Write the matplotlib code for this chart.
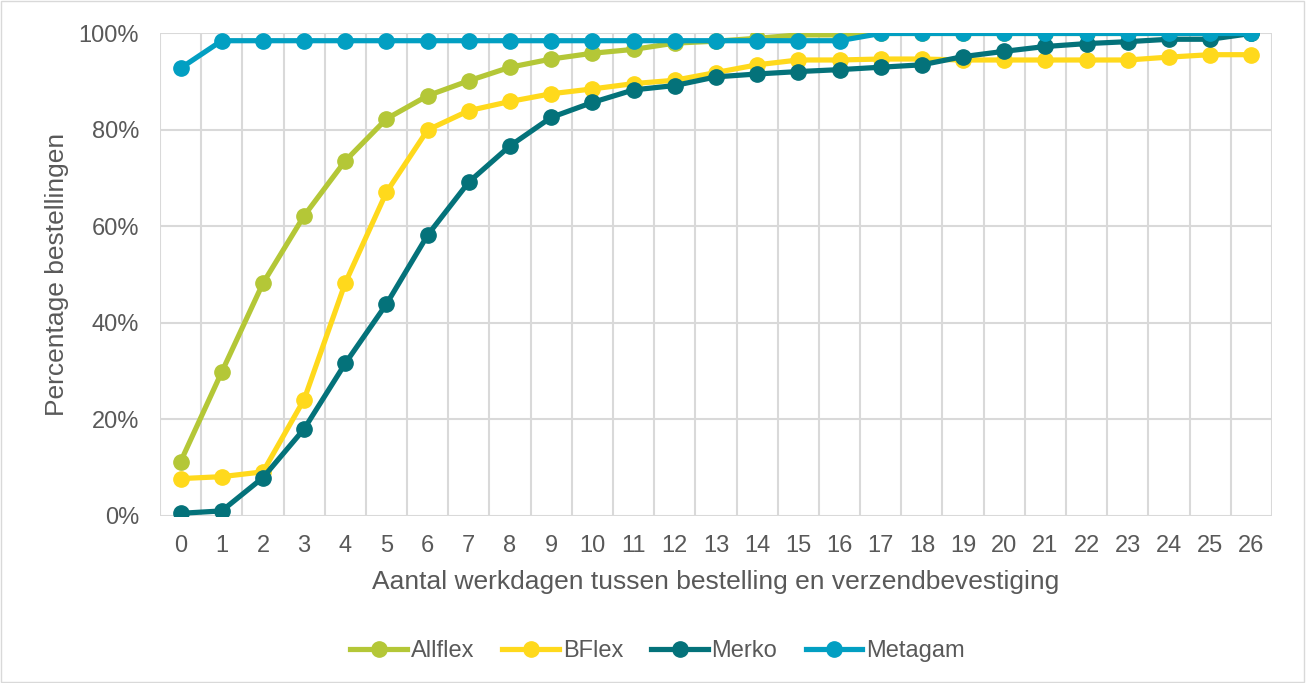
import matplotlib.pyplot as plt
from matplotlib.ticker import PercentFormatter, FixedLocator
from matplotlib.patches import Rectangle

plt.rcParams['font.family'] = ['Liberation Sans', 'DejaVu Sans']

days = list(range(27))
allflex = [11.2, 29.8, 48.2, 62.2, 73.6, 82.3, 87.1, 90.2, 93.0, 94.7, 95.9, 96.7, 98.0,
           98.4, 99.0, 99.7, 99.7, 100, 100, 100, 100, 100, 100, 100, 100, 100, 100]
bflex = [7.7, 8.1, 9.1, 24.1, 48.3, 67.1, 80.0, 84.0, 85.9, 87.5, 88.5, 89.6, 90.3,
         91.9, 93.5, 94.5, 94.5, 94.7, 94.7, 94.5, 94.5, 94.5, 94.5, 94.5, 95.1, 95.6, 95.6]
merko = [0.5, 1.0, 7.9, 18.0, 31.6, 43.9, 58.2, 69.2, 76.7, 82.6, 85.7, 88.3, 89.2,
         91.0, 91.6, 92.1, 92.5, 93.0, 93.5, 95.2, 96.3, 97.3, 97.9, 98.3, 98.8, 98.8, 100]
metagam = [92.8, 98.5, 98.5, 98.5, 98.5, 98.5, 98.5, 98.5, 98.5, 98.5, 98.5, 98.5, 98.5,
           98.5, 98.5, 98.5, 98.5, 100, 100, 100, 100, 100, 100, 100, 100, 100, 100]

series = [('Allflex', allflex, '#B4C737'),
          ('BFlex', bflex, '#FFD91C'),
          ('Merko', merko, '#04727A'),
          ('Metagam', metagam, '#029FC2')]

fig = plt.figure(figsize=(13.07, 6.83), dpi=100)
ax = fig.add_axes([0.1224, 0.2449, 0.8508, 0.7061])

for name, vals, col in series:
    ax.plot(days, [v / 100 for v in vals], '-o', color=col, lw=3.75, ms=11, label=name)

ax.set_xlim(-0.5, 26.5)
ax.set_ylim(0, 1)
ax.set_xticks(days)
ax.xaxis.set_minor_locator(FixedLocator([d - 0.5 for d in days] + [26.5]))
ax.set_yticks([0, 0.2, 0.4, 0.6, 0.8, 1.0])
ax.yaxis.set_major_formatter(PercentFormatter(1.0, decimals=0))
ax.grid(axis='y', which='major', color='#D9D9D9', lw=1.5)
ax.grid(axis='x', which='minor', color='#D9D9D9', lw=1.5)
ax.set_axisbelow(True)
ax.tick_params(which='both', length=0, labelsize=17, colors='#595959')
ax.tick_params(axis='x', pad=14)
ax.tick_params(axis='y', pad=15)
for s in ax.spines.values():
    s.set_visible(False)

ax.set_xlabel('Aantal werkdagen tussen bestelling en verzendbevestiging', fontsize=19, color='#595959', labelpad=9)
ax.set_ylabel('Percentage bestellingen', fontsize=19, color='#595959', labelpad=7)

leg = fig.legend(loc='center', bbox_to_anchor=(0.503, 0.047), ncol=4, frameon=False,
                 fontsize=17, handlelength=2.4, columnspacing=1.2, handletextpad=0.15)
for t in leg.get_texts():
    t.set_color('#595959')

fig.patches.append(Rectangle((0.001, 0.002), 0.997, 0.996, transform=fig.transFigure,
                             fill=False, edgecolor='#D9D9D9', lw=1))

fig.savefig('out.png', dpi=100)
